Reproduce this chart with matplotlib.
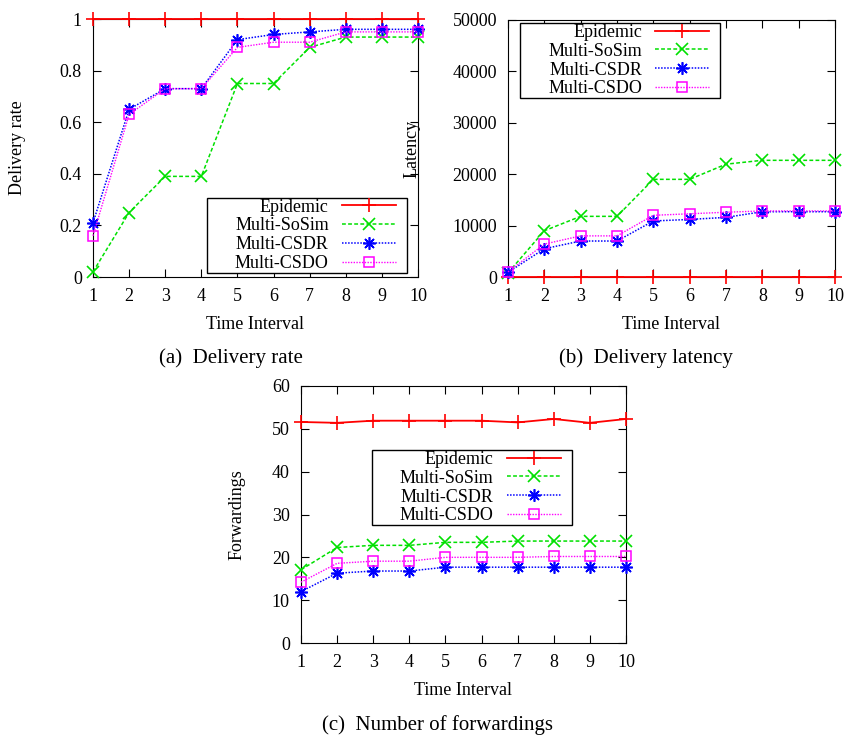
import numpy as np
import matplotlib.pyplot as plt
from matplotlib.offsetbox import DrawingArea, HPacker

plt.rcParams['font.family'] = ['Liberation Serif', 'DejaVu Serif']
plt.rcParams['font.size'] = 13

x = np.arange(1, 11)
labels = ['Epidemic', 'Multi-SoSim', 'Multi-CSDR', 'Multi-CSDO']

# (a) delivery rate
rate_epidemic = [1, 1, 1, 1, 1, 1, 1, 1, 1, 1]
rate_sosim = [0.02, 0.25, 0.39, 0.39, 0.75, 0.75, 0.89, 0.93, 0.93, 0.93]
rate_csdr = [0.21, 0.65, 0.73, 0.73, 0.92, 0.94, 0.95, 0.96, 0.96, 0.96]
rate_csdo = [0.16, 0.63, 0.73, 0.73, 0.89, 0.91, 0.91, 0.95, 0.95, 0.95]

# (b) latency
lat_epidemic = [0, 0, 0, 0, 0, 0, 0, 0, 0, 0]
lat_sosim = [800, 9000, 11800, 11800, 19000, 19000, 21950, 22700, 22700, 22700]
lat_csdr = [900, 5500, 7000, 7000, 10900, 11200, 11600, 12700, 12700, 12700]
lat_csdo = [1000, 6400, 8000, 8000, 12000, 12300, 12600, 12850, 12850, 12850]

# (c) forwardings
fwd_epidemic = [51.6, 51.4, 51.9, 51.9, 51.9, 51.9, 51.5, 52.3, 51.4, 52.3]
fwd_sosim = [17.1, 22.3, 22.8, 22.8, 23.5, 23.5, 23.8, 23.8, 23.8, 23.8]
fwd_csdr = [12.0, 16.3, 16.8, 16.8, 17.7, 17.7, 17.7, 17.7, 17.7, 17.7]
fwd_csdo = [14.2, 18.6, 19.1, 19.1, 20.0, 20.0, 20.0, 20.2, 20.2, 20.2]

styles = [
    dict(color='#ff0000', ls='-', marker='+', ms=10, mew=1.2, lw=1.3),
    dict(color='#00e000', ls=(0, (2.5, 1.5)), marker='x', ms=8, mew=1.2, lw=1.1),
    dict(color='#0000ff', ls=(0, (1, 1)), marker=(8, 2, 0), ms=9, mew=1.2, lw=1.1),
    dict(color='#ff00ff', ls=(0, (1, 1)), marker='s', ms=7.5, mew=1.1, lw=1.0, mfc='none'),
]

W, H = 848, 738
DPI = 100
fig = plt.figure(figsize=(W / DPI, H / DPI), dpi=DPI)


def make_ax(l, r, t, b):
    return fig.add_axes([l / W, 1 - b / H, (r - l) / W, (b - t) / H])


def pad_legend(leg, width_pt, right_pt):
    # gnuplot style key: labels right-aligned, fixed box width
    for col in leg._legend_handle_box.get_children():
        for it in col.get_children():
            inner = HPacker(pad=0, sep=it.sep, align='baseline',
                            children=list(it.get_children()))
            it._children = [inner, DrawingArea(right_pt, 0)]
            it.sep = 0
        col.width = width_pt * DPI / 72
        col.align = 'right'


def draw(ax, series, ylim, yticks, ylab, ylab_x, leg_loc, leg_anchor):
    for s, lab, st in zip(series, labels, styles):
        ax.plot(x, s, label=lab, clip_on=False, zorder=3, **st)
    ax.set_xlim(1, 10)
    ax.set_ylim(*ylim)
    ax.set_xticks(x)
    ax.set_yticks(yticks)
    ax.tick_params(direction='in', top=True, right=True, length=6, pad=8)
    ax.set_xlabel('Time Interval')
    ax.xaxis.set_label_coords(0.5, -0.152)
    ax.set_ylabel(ylab)
    ax.yaxis.set_label_coords(ylab_x, 0.5)
    leg = ax.legend(loc=leg_loc, bbox_to_anchor=leg_anchor, markerfirst=False,
                    fancybox=False, edgecolor='black', framealpha=1,
                    handlelength=3.0, labelspacing=0.1, borderpad=0.05,
                    handletextpad=0.72, borderaxespad=0)
    leg.get_frame().set_linewidth(1.0)
    pad_legend(leg, 144 - 1.3, 7.25)
    return leg


ax1 = make_ax(93, 418, 19, 277)
draw(ax1, [rate_epidemic, rate_sosim, rate_csdr, rate_csdo], (0, 1),
     [0, 0.2, 0.4, 0.6, 0.8, 1], 'Delivery rate', -0.205,
     'lower right', (0.966, 0.016))
ax1.set_yticklabels(['0', '0.2', '0.4', '0.6', '0.8', '1'])

ax2 = make_ax(508, 835, 20, 277)
draw(ax2, [lat_epidemic, lat_sosim, lat_csdr, lat_csdo], (0, 50000),
     [0, 10000, 20000, 30000, 40000, 50000], 'Latency', -0.269,
     'upper left', (0.037, 0.988))

ax3 = make_ax(301, 626, 386, 643)
draw(ax3, [fwd_epidemic, fwd_sosim, fwd_csdr, fwd_csdo], (0, 60),
     [0, 10, 20, 30, 40, 50, 60], 'Forwardings', -0.172,
     'upper left', (0.218, 0.751))

fig.text(231 / W, 1 - 358 / H, '(a)  Delivery rate', ha='center', va='center', fontsize=15)
fig.text(646 / W, 1 - 358 / H, '(b)  Delivery latency', ha='center', va='center', fontsize=15)
fig.text(437 / W, 1 - 725 / H, '(c)  Number of forwardings', ha='center', va='center', fontsize=15)

fig.savefig('out.png', dpi=DPI)
